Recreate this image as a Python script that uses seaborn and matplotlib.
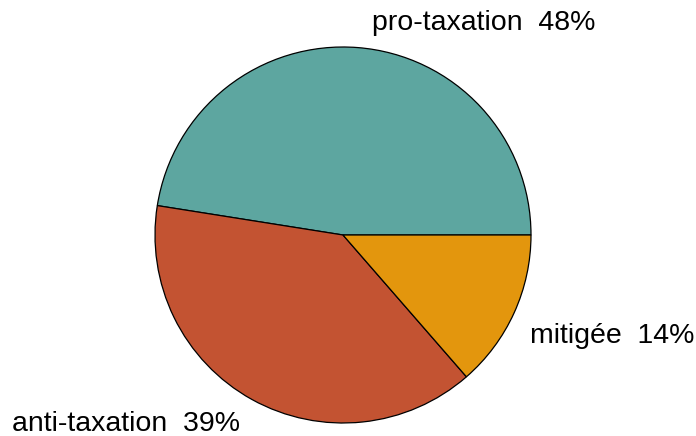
import matplotlib
matplotlib.use("Agg")
import matplotlib.pyplot as plt
import seaborn as sns

categories = ["pro-taxation", "anti-taxation", "mitigée"]
shares = [47.5, 38.9, 13.6]
pct_labels = ["48%", "39%", "14%"]
colors = ["#5DA6A0", "#C35332", "#E3960D"]

sns.set_theme(style="white")
plt.rcParams['font.family'] = ['Liberation Sans', 'DejaVu Sans']

fig = plt.figure(figsize=(6.96, 4.36), dpi=100)
cx, cy, r = 343, 235, 188
W, H = 696, 436
ax = fig.add_axes([(cx - r) / W, (H - cy - r) / H, 2 * r / W, 2 * r / H])

labels = [f"{c}  {p}" for c, p in zip(categories, pct_labels)]
wedges, texts = ax.pie(shares, labels=labels, colors=colors, startangle=0,
                       counterclock=True, labeldistance=1.12,
                       wedgeprops=dict(edgecolor="black", linewidth=0.9),
                       textprops=dict(fontsize=20.5, color="black"))
# label placement (style): left/right anchored, baseline positions
label_pos = [(0.154, 1.09, "left"), (-0.548, -1.043, "right"), (0.995, -0.574, "left")]
for t, (x, y, ha) in zip(texts, label_pos):
    t.set_position((x, y))
    t.set_ha(ha)
    t.set_va("baseline")
ax.set_xlim(-1, 1)
ax.set_ylim(-1, 1)
ax.set_aspect("equal")
ax.axis("off")
fig.savefig("out.png", dpi=100)
